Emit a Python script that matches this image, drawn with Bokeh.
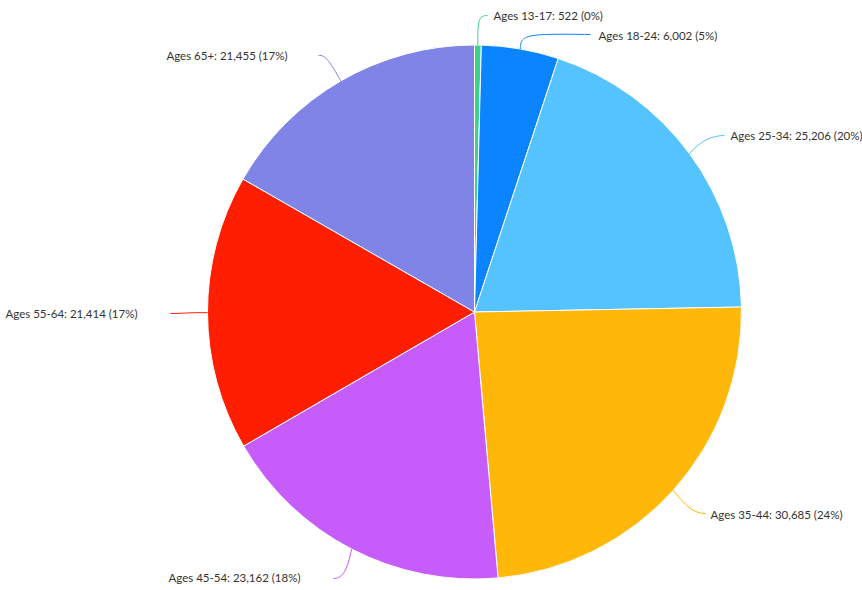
import math
from bokeh.plotting import figure
from bokeh.models import Range1d, ColumnDataSource
from bokeh.core.properties import value
from bokeh.embed import file_html
from bokeh.resources import INLINE

# ---- data ----
categories = ["Ages 13-17", "Ages 18-24", "Ages 25-34", "Ages 35-44",
              "Ages 45-54", "Ages 55-64", "Ages 65+"]
counts = [522, 6002, 25206, 30685, 23162, 21414, 21455]
colors = ["#3fd08f", "#0a84ff", "#55c3ff", "#ffb80a", "#c65cfa", "#ff1f00", "#7f84e6"]

# ---- layout (screen pixel coords of the page) ----
W, H = 862, 590
CX, CY, R = 474, 311.5, 267
def sy(Y):
    return H - Y

# connector end point, control points, text anchor and alignment (layout only)
label_layout = [
    dict(end=(487, 15), c0=(477, 20), c1=(478, 15), txt=(493, 15), align="left"),
    dict(end=(590, 34), c0=(520, 34), c1=(525, 33), txt=(598, 35), align="left"),
    dict(end=(724, 135), c0=(700, 140), c1=(712, 135), txt=(730, 135), align="left"),
    dict(end=(705, 513), c0=(685, 505), c1=(693, 513), txt=(710, 514), align="left"),
    dict(end=(333, 578), c0=(347, 568), c1=(343, 578), txt=(300, 577), align="right"),
    dict(end=(170, 313), c0=(190, 312), c1=(180, 313), txt=(137, 313), align="right"),
    dict(end=(318, 55), c0=(330, 62), c1=(325, 54), txt=(287, 55), align="right"),
]

total = sum(counts)
starts, ends, mids = [], [], []
cum = 0
for c in counts:
    a0 = math.pi / 2 - 2 * math.pi * cum / total
    cum += c
    a1 = math.pi / 2 - 2 * math.pi * cum / total
    starts.append(a0)
    ends.append(a1)
    mids.append((a0 + a1) / 2)

p = figure(width=W, height=H, output_backend="svg", toolbar_location=None,
           x_range=Range1d(0, W), y_range=Range1d(0, H),
           min_border=0)
p.axis.visible = False
p.grid.visible = False
p.outline_line_color = None
p.background_fill_color = "white"
p.border_fill_color = "white"

src = ColumnDataSource(dict(start=starts, end=ends, color=colors))
p.wedge(x=CX, y=sy(CY), radius=R, start_angle="start", end_angle="end",
        direction="clock", fill_color="color", line_color="white",
        line_width=1, source=src)

# connectors and labels
for i, (cat, cnt, col, m) in enumerate(zip(categories, counts, colors, mids)):
    lay = label_layout[i]
    x0 = CX + R * math.cos(m)
    y0 = sy(CY) + R * math.sin(m)
    p.bezier(x0=[x0], y0=[y0], x1=[lay["end"][0]], y1=[sy(lay["end"][1])],
             cx0=[lay["c0"][0]], cy0=[sy(lay["c0"][1])],
             cx1=[lay["c1"][0]], cy1=[sy(lay["c1"][1])],
             line_color=col, line_width=1)
    pct = round(100 * cnt / total)
    label = f"{cat}: {cnt:,} ({pct}%)"
    p.text(x=[lay["txt"][0]], y=[sy(lay["txt"][1])], text=[label],
           text_align=lay["align"], text_baseline="middle",
           text_font=value("Lato"), text_font_size="11.5px",
           text_color="#333333")

open("out.html", "w").write(file_html(p, INLINE))
